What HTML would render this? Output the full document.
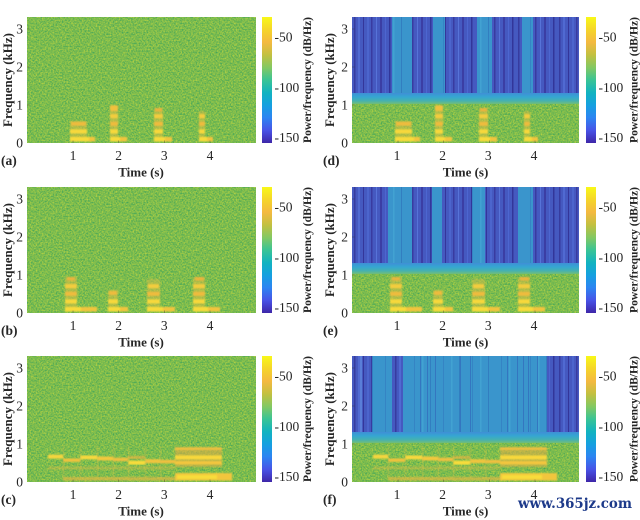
<!DOCTYPE html>
<html><head><meta charset="utf-8">
<style>
html,body{margin:0;padding:0;background:#fff;}
svg{display:block;}
text{font-family:"Liberation Serif","Times New Roman",serif;fill:#262626;}
.tk{font-size:13.5px;}
.lb{font-size:13px;font-weight:bold;}
.pl{font-size:11.6px;font-weight:bold;}
.wm{font-family:"DejaVu Serif","Liberation Serif",serif;font-size:14px;font-weight:bold;fill:#1d3a8a;}
</style></head><body>
<svg width="640" height="520" viewBox="0 0 640 520" xmlns="http://www.w3.org/2000/svg">
<defs>
 <linearGradient id="parula" x1="0" y1="1" x2="0" y2="0">
  <stop offset="0" stop-color="#3e26a8"/>
  <stop offset="0.1" stop-color="#4852e6"/>
  <stop offset="0.2" stop-color="#2d84f2"/>
  <stop offset="0.3" stop-color="#15a0e0"/>
  <stop offset="0.4" stop-color="#12b3c0"/>
  <stop offset="0.5" stop-color="#3ac495"/>
  <stop offset="0.6" stop-color="#84c862"/>
  <stop offset="0.7" stop-color="#c3c040"/>
  <stop offset="0.8" stop-color="#f4b940"/>
  <stop offset="0.9" stop-color="#f5d52a"/>
  <stop offset="1" stop-color="#f8f818"/>
 </linearGradient>
 <linearGradient id="band" x1="0" y1="0" x2="0" y2="1">
  <stop offset="0" stop-color="#3f8fd6"/>
  <stop offset="0.35" stop-color="#35a6d2"/>
  <stop offset="0.7" stop-color="#45b2b0"/>
  <stop offset="1" stop-color="#72bd78"/>
 </linearGradient>
 <filter id="nz" x="0" y="0" width="1" height="1" color-interpolation-filters="sRGB">
  <feTurbulence type="fractalNoise" baseFrequency="0.65" numOctaves="2" seed="7"/>
  <feColorMatrix type="matrix" values="0.7 0 0 0 0.14  0.28 0 0 0 0.597  -0.14 0 0 0 0.376  0 0 0 0 1"/>
 </filter>
 <filter id="bl" x="-10%" y="-10%" width="120%" height="120%">
  <feGaussianBlur stdDeviation="0.9"/>
 </filter>
 <pattern id="dk" width="41" height="10" patternUnits="userSpaceOnUse">
  <rect width="41" height="10" fill="#4559c0"/>
  <rect x="2" width="1.5" height="10" fill="#373c9f"/>
  <rect x="6" width="2" height="10" fill="#506ad2"/>
  <rect x="11" width="1" height="10" fill="#34369a"/>
  <rect x="15" width="2" height="10" fill="#4c65cd"/>
  <rect x="19" width="1.5" height="10" fill="#393ba0"/>
  <rect x="24" width="1" height="10" fill="#5773d8"/>
  <rect x="28" width="2" height="10" fill="#3b3ea4"/>
  <rect x="33" width="1" height="10" fill="#4d66d0"/>
  <rect x="37" width="1.5" height="10" fill="#32369a"/>
 </pattern>
 <pattern id="tl" width="29" height="10" patternUnits="userSpaceOnUse">
  <rect width="29" height="10" fill="#3a95cc"/>
  <rect x="4" width="1" height="10" fill="#3584c4"/>
  <rect x="12" width="1.5" height="10" fill="#42a2d2"/>
  <rect x="20" width="1" height="10" fill="#327ec0"/>
 </pattern>

 <g id="blA">
  <rect x="43" y="104" width="17" height="20" fill="#d6be45" opacity="0.55"/>
  <rect x="43" y="119.9" width="25" height="4.6" fill="#f2c43c"/>
  <rect x="43" y="119.9" width="19" height="4.6" fill="#f8da3a"/>
  <rect x="43" y="112.3" width="17" height="4.2" fill="#f7d83a"/>
  <rect x="44" y="104.7" width="15" height="4" fill="#eebb3e"/>

  <rect x="83" y="88" width="8" height="36" fill="#d6be45" opacity="0.6"/>
  <rect x="83" y="119.9" width="17" height="4.6" fill="#f2c43c"/>
  <rect x="83" y="119.9" width="10" height="4.6" fill="#f8da3a"/>
  <rect x="83" y="112.3" width="8" height="4.2" fill="#f7d83a"/>
  <rect x="83" y="104.7" width="8" height="4.2" fill="#eebb3e"/>
  <rect x="83" y="97.1" width="8" height="4.2" fill="#f3cc3c"/>
  <rect x="83" y="88.5" width="8" height="5.5" fill="#f0c03e"/>

  <rect x="127" y="91" width="9" height="33" fill="#d6be45" opacity="0.55"/>
  <rect x="127" y="119.9" width="18" height="4.6" fill="#f2c43c"/>
  <rect x="127" y="119.9" width="11" height="4.6" fill="#f8da3a"/>
  <rect x="127" y="112.3" width="9" height="4.2" fill="#f7d83a"/>
  <rect x="127" y="104.7" width="9" height="4.2" fill="#eebb3e"/>
  <rect x="127" y="97.1" width="9" height="4.2" fill="#f3cc3c"/>
  <rect x="128" y="91" width="7" height="3.5" fill="#eab43e"/>

  <rect x="172" y="94" width="6" height="30" fill="#d6be45" opacity="0.55"/>
  <rect x="172" y="119.9" width="14" height="4.6" fill="#f2c43c"/>
  <rect x="172" y="119.9" width="8" height="4.6" fill="#f8da3a"/>
  <rect x="172" y="112.3" width="6" height="4.2" fill="#f7d83a"/>
  <rect x="172" y="104.7" width="6" height="4.2" fill="#eebb3e"/>
  <rect x="172" y="97.1" width="6" height="4.2" fill="#f3cc3c"/>
 </g>

 <g id="blB">
  <rect x="38" y="90" width="12" height="34" fill="#d6be45" opacity="0.55"/>
  <rect x="38" y="119.9" width="32" height="4.6" fill="#f2c43c"/>
  <rect x="38" y="119.9" width="16" height="4.6" fill="#f8da3a"/>
  <rect x="38" y="112.3" width="12" height="4.2" fill="#f7d83a"/>
  <rect x="38" y="104.7" width="12" height="4.2" fill="#eebb3e"/>
  <rect x="38" y="97.1" width="12" height="4.2" fill="#f3cc3c"/>
  <rect x="40" y="90" width="8" height="3.5" fill="#eab43e"/>

  <rect x="81" y="103" width="10" height="21" fill="#d6be45" opacity="0.55"/>
  <rect x="81" y="119.9" width="20" height="4.6" fill="#f2c43c"/>
  <rect x="81" y="119.9" width="12" height="4.6" fill="#f8da3a"/>
  <rect x="81" y="112.3" width="10" height="4.2" fill="#f7d83a"/>
  <rect x="82" y="104" width="8" height="4" fill="#eebb3e"/>

  <rect x="120" y="92" width="13" height="32" fill="#d6be45" opacity="0.5"/>
  <rect x="120" y="119.9" width="28" height="4.6" fill="#f2c43c"/>
  <rect x="120" y="119.9" width="16" height="4.6" fill="#f8da3a"/>
  <rect x="120" y="112.3" width="13" height="4.2" fill="#f7d83a"/>
  <rect x="120" y="104.7" width="13" height="4.2" fill="#eebb3e"/>
  <rect x="121" y="97.1" width="11" height="4.2" fill="#f3cc3c"/>

  <rect x="166" y="90" width="12" height="34" fill="#d6be45" opacity="0.55"/>
  <rect x="166" y="119.9" width="27" height="4.6" fill="#f2c43c"/>
  <rect x="166" y="119.9" width="15" height="4.6" fill="#f8da3a"/>
  <rect x="166" y="112.3" width="12" height="4.2" fill="#f7d83a"/>
  <rect x="166" y="104.7" width="12" height="4.2" fill="#eebb3e"/>
  <rect x="166" y="97.1" width="12" height="4.2" fill="#f3cc3c"/>
  <rect x="168" y="90" width="9" height="3.5" fill="#eab43e"/>
 </g>

 <g id="chC">
  <rect x="36" y="121" width="112" height="3.5" fill="#e3b844" opacity="0.7"/>
  <rect x="148" y="117" width="57" height="7.5" fill="#f2c63e"/>
  <rect x="150" y="119" width="40" height="4" fill="#f8dc3a"/>
  <rect x="21" y="110.5" width="127" height="3" fill="#d8bb48" opacity="0.45"/>
  <rect x="21" y="98.6" width="15" height="4" fill="#f5d53c"/>
  <rect x="36" y="102.4" width="17" height="3.5" fill="#efc23e"/>
  <rect x="53" y="99.4" width="17" height="4" fill="#f6d83c"/>
  <rect x="70" y="100.5" width="16" height="4" fill="#f2c83e"/>
  <rect x="86" y="101.7" width="15" height="3.5" fill="#efc040"/>
  <rect x="101" y="104.7" width="17" height="4" fill="#f8dc3a"/>
  <rect x="101" y="100" width="17" height="3" fill="#e8b440" opacity="0.7"/>
  <rect x="118" y="103.2" width="15" height="4" fill="#f0c43e"/>
  <rect x="133" y="103.8" width="15" height="3.6" fill="#efc040"/>
  <rect x="148" y="91" width="47" height="20" fill="#dcae44" opacity="0.6"/>
  <rect x="148" y="91.5" width="47" height="2.5" fill="#f0c040"/>
  <rect x="148" y="99.4" width="47" height="4" fill="#f8d83a"/>
  <rect x="148" y="105" width="47" height="3.5" fill="#f3c63c"/>
  <g fill="#d6bf48" opacity="0.5">
   <rect x="36" y="90" width="1" height="32"/>
   <rect x="53" y="90" width="1" height="32"/>
   <rect x="70" y="90" width="1" height="32"/>
   <rect x="86" y="90" width="1" height="32"/>
   <rect x="101" y="90" width="1" height="32"/>
   <rect x="118" y="90" width="1" height="32"/>
   <rect x="133" y="90" width="1" height="32"/>
  </g>
 </g>

 <g id="cbar">
  <rect x="0" y="0" width="10" height="126" fill="url(#parula)"/>
 </g>
 <g id="tkL" stroke="#333" stroke-width="0.6" opacity="0.6">
  <line x1="0" y1="12" x2="2.5" y2="12"/><line x1="0" y1="50" x2="2.5" y2="50"/>
  <line x1="0" y1="88" x2="2.5" y2="88"/>
  <line x1="46" y1="126" x2="46" y2="123.5"/><line x1="91.6" y1="126" x2="91.6" y2="123.5"/>
  <line x1="137.3" y1="126" x2="137.3" y2="123.5"/><line x1="183" y1="126" x2="183" y2="123.5"/>
 </g>
</defs>

<g transform="translate(27,17)">
 <rect width="229" height="126" fill="#7dbb4e" filter="url(#nz)"/>
 <use href="#blA" filter="url(#bl)"/>
 <use href="#tkL"/>
</g>
<g transform="translate(27,187)">
 <rect width="229" height="126" fill="#7dbb4e" filter="url(#nz)"/>
 <use href="#blB" filter="url(#bl)"/>
 <use href="#tkL"/>
</g>
<g transform="translate(27,356)">
 <rect width="229" height="126" fill="#7dbb4e" filter="url(#nz)"/>
 <use href="#chC" filter="url(#bl)"/>
 <use href="#tkL"/>
</g>

<g transform="translate(352,17)">
 <rect y="80" width="227" height="46" fill="#7dbb4e" filter="url(#nz)"/>
 <rect width="227" height="78" fill="url(#dk)"/>
 <rect x="40" width="20" height="78" fill="url(#tl)"/>
 <rect x="81" width="12" height="78" fill="url(#tl)"/>
 <rect x="125" width="15" height="78" fill="url(#tl)"/>
 <rect x="170" width="11" height="78" fill="url(#tl)"/>
 <rect y="76" width="227" height="11" fill="url(#band)"/>
 <use href="#blA" filter="url(#bl)"/>
 <use href="#tkL"/>
</g>
<g transform="translate(352,187)">
 <rect y="80" width="227" height="46" fill="#7dbb4e" filter="url(#nz)"/>
 <rect width="227" height="78" fill="url(#dk)"/>
 <rect x="36" width="24" height="78" fill="url(#tl)"/>
 <rect x="80" width="10" height="78" fill="url(#tl)"/>
 <rect x="120" width="13" height="78" fill="url(#tl)"/>
 <rect x="166" width="15" height="78" fill="url(#tl)"/>
 <rect y="76" width="227" height="11" fill="url(#band)"/>
 <use href="#blB" filter="url(#bl)"/>
 <use href="#tkL"/>
</g>
<g transform="translate(352,356)">
 <rect y="80" width="227" height="46" fill="#7dbb4e" filter="url(#nz)"/>
 <rect width="227" height="78" fill="url(#dk)"/>
 <rect x="20" width="20" height="78" fill="url(#tl)"/>
 <rect x="51" width="144" height="78" fill="url(#tl)"/>
 <g fill="#3476c0">
  <rect x="68" width="1" height="78"/><rect x="75" width="1" height="78"/>
  <rect x="83" width="1" height="78"/><rect x="108" width="1" height="78"/>
  <rect x="118" width="1" height="78"/><rect x="155" width="1" height="78"/>
  <rect x="165" width="1" height="78"/><rect x="171" width="1" height="78"/>
  <rect x="176" width="1" height="78"/><rect x="185" width="1" height="78"/>
 </g>
 <rect x="8" width="2" height="78" fill="#5a7ed8"/>
 <rect y="76" width="227" height="11" fill="url(#band)"/>
 <use href="#chC" filter="url(#bl)"/>
 <use href="#tkL"/>
</g>

<use href="#cbar" x="262" y="17"/>
<use href="#cbar" x="262" y="187"/>
<use href="#cbar" x="262" y="356"/>
<use href="#cbar" x="586" y="17"/>
<use href="#cbar" x="586" y="187"/>
<use href="#cbar" x="586" y="356"/>

<g class="tk" text-anchor="end">
 <text x="23" y="33.5">3</text><text x="23" y="71.5">2</text><text x="23" y="109.5">1</text><text x="23" y="147.5">0</text>
 <text x="23" y="203.5">3</text><text x="23" y="241.5">2</text><text x="23" y="279.5">1</text><text x="23" y="317.5">0</text>
 <text x="23" y="372.5">3</text><text x="23" y="410.5">2</text><text x="23" y="448.5">1</text><text x="23" y="486.5">0</text>
 <text x="348" y="33.5">3</text><text x="348" y="71.5">2</text><text x="348" y="109.5">1</text><text x="348" y="147.5">0</text>
 <text x="348" y="203.5">3</text><text x="348" y="241.5">2</text><text x="348" y="279.5">1</text><text x="348" y="317.5">0</text>
 <text x="348" y="372.5">3</text><text x="348" y="410.5">2</text><text x="348" y="448.5">1</text><text x="348" y="486.5">0</text>
</g>
<g class="tk" text-anchor="middle">
 <text x="73" y="160">1</text><text x="118.6" y="160">2</text><text x="164.3" y="160">3</text><text x="210" y="160">4</text>
 <text x="73" y="330">1</text><text x="118.6" y="330">2</text><text x="164.3" y="330">3</text><text x="210" y="330">4</text>
 <text x="73" y="499">1</text><text x="118.6" y="499">2</text><text x="164.3" y="499">3</text><text x="210" y="499">4</text>
 <text x="397" y="160">1</text><text x="442.6" y="160">2</text><text x="488.3" y="160">3</text><text x="534" y="160">4</text>
 <text x="397" y="330">1</text><text x="442.6" y="330">2</text><text x="488.3" y="330">3</text><text x="534" y="330">4</text>
 <text x="397" y="499">1</text><text x="442.6" y="499">2</text><text x="488.3" y="499">3</text><text x="534" y="499">4</text>
</g>
<g class="tk">
 <text x="274.5" y="41.5">-50</text><text x="274.5" y="92">-100</text><text x="274.5" y="142">-150</text>
 <text x="274.5" y="211.5">-50</text><text x="274.5" y="262">-100</text><text x="274.5" y="312">-150</text>
 <text x="274.5" y="380.5">-50</text><text x="274.5" y="431">-100</text><text x="274.5" y="481">-150</text>
 <text x="598.5" y="41.5">-50</text><text x="598.5" y="92">-100</text><text x="598.5" y="142">-150</text>
 <text x="598.5" y="211.5">-50</text><text x="598.5" y="262">-100</text><text x="598.5" y="312">-150</text>
 <text x="598.5" y="380.5">-50</text><text x="598.5" y="431">-100</text><text x="598.5" y="481">-150</text>
</g>
<g class="lb" text-anchor="middle">
 <text x="141" y="176.5">Time (s)</text>
 <text x="141" y="346.5">Time (s)</text>
 <text x="141" y="515.5">Time (s)</text>
 <text x="465.5" y="176.5">Time (s)</text>
 <text x="465.5" y="346.5">Time (s)</text>
 <text x="465.5" y="515.5">Time (s)</text>
 <text transform="translate(12,80) rotate(-90)">Frequency (kHz)</text>
 <text transform="translate(12,250) rotate(-90)">Frequency (kHz)</text>
 <text transform="translate(12,419) rotate(-90)">Frequency (kHz)</text>
 <text transform="translate(334,80) rotate(-90)">Frequency (kHz)</text>
 <text transform="translate(334,250) rotate(-90)">Frequency (kHz)</text>
 <text transform="translate(334,419) rotate(-90)">Frequency (kHz)</text>
</g>
<g class="pl" text-anchor="middle">
 <text transform="translate(311,80) rotate(-90)" textLength="126" lengthAdjust="spacingAndGlyphs">Power/frequency (dB/Hz)</text>
 <text transform="translate(311,250) rotate(-90)" textLength="126" lengthAdjust="spacingAndGlyphs">Power/frequency (dB/Hz)</text>
 <text transform="translate(311,419) rotate(-90)" textLength="126" lengthAdjust="spacingAndGlyphs">Power/frequency (dB/Hz)</text>
 <text transform="translate(637.5,80) rotate(-90)" textLength="126" lengthAdjust="spacingAndGlyphs">Power/frequency (dB/Hz)</text>
 <text transform="translate(637.5,250) rotate(-90)" textLength="126" lengthAdjust="spacingAndGlyphs">Power/frequency (dB/Hz)</text>
 <text transform="translate(637.5,419) rotate(-90)" textLength="126" lengthAdjust="spacingAndGlyphs">Power/frequency (dB/Hz)</text>
</g>
<g class="lb" style="font-size:13.5px">
 <text x="1" y="165">(a)</text>
 <text x="1" y="335">(b)</text>
 <text x="1" y="504">(c)</text>
 <text x="323" y="165">(d)</text>
 <text x="323" y="335">(e)</text>
 <text x="323" y="504">(f)</text>
</g>
<text class="wm" x="518" y="508" textLength="114" lengthAdjust="spacingAndGlyphs">www.365jz.com</text>
</svg>
</body></html>
